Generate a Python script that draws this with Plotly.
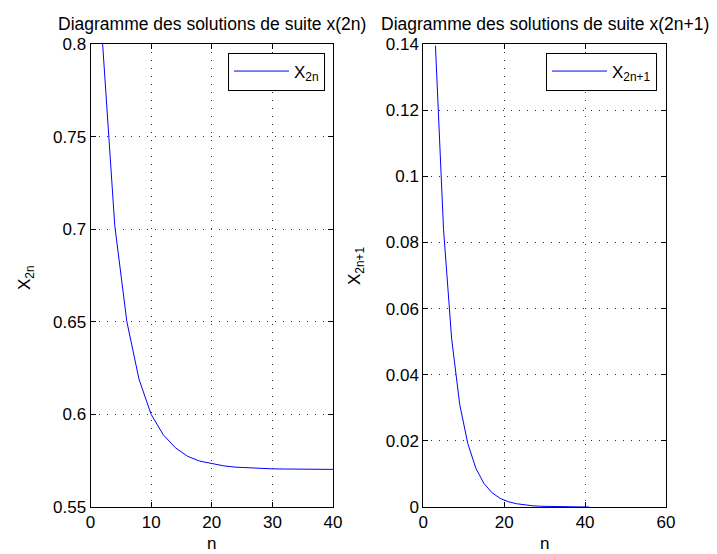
import plotly.graph_objects as go

# ---------------- data ----------------
n_even = [2, 4, 6, 8, 10, 12, 14, 16, 18, 20, 22, 24, 26, 28, 30, 32, 34, 36, 38, 40]
x_even = [0.800, 0.702, 0.650, 0.619, 0.600, 0.589, 0.582, 0.5774, 0.5748, 0.5733,
          0.5722, 0.5715, 0.5711, 0.5708, 0.5706, 0.5705, 0.5704, 0.5703, 0.5703, 0.5703]

n_odd = [3, 5, 7, 9, 11, 13, 15, 17, 19, 21, 23, 25, 27, 29, 31, 33, 35, 37, 39, 41]
x_odd = [0.1395, 0.084, 0.051, 0.031, 0.0192, 0.0117, 0.0071, 0.0043, 0.0026, 0.0016,
         0.0010, 0.0006, 0.00037, 0.00022, 0.00014, 0.00008, 0.00005, 0.00003, 0.00002, 0.00001]

left_xticks = [0, 10, 20, 30, 40]
left_yticks = [0.55, 0.6, 0.65, 0.7, 0.75, 0.8]
left_yticktext = ["0.55", "0.6", "0.65", "0.7", "0.75", "0.8"]
right_xticks = [0, 20, 40, 60]
right_yticks = [0, 0.02, 0.04, 0.06, 0.08, 0.1, 0.12, 0.14]
right_yticktext = ["0", "0.02", "0.04", "0.06", "0.08", "0.1", "0.12", "0.14"]

title_left = "Diagramme des solutions de suite x(2n)"
title_right = "Diagramme des solutions de suite x(2n+1)"

# ---------------- layout helpers ----------------
W, H = 717, 554
FONT = "Liberation Sans, Arial, sans-serif"
FS = 17
FT = 17.5


def px(x):
    return x / W


def py(y):
    return 1 - y / H


L1, R1 = 90.5, 333.0
L2, R2 = 423.3, 666.0
TOP, BOT = 44.0, 507.0

fig = go.Figure()
fig.add_trace(go.Scatter(x=n_even, y=x_even, mode="lines",
                         line=dict(color="#0000ff", width=1),
                         name="X<sub>2n</sub>", xaxis="x", yaxis="y", legend="legend"))
fig.add_trace(go.Scatter(x=n_odd, y=x_odd, mode="lines",
                         line=dict(color="#0000ff", width=1),
                         name="X<sub>2n+1</sub>", xaxis="x2", yaxis="y2", legend="legend2"))

common = dict(showline=True, linecolor="black", linewidth=1, mirror="ticks",
              ticks="inside", ticklen=5, tickcolor="black", tickwidth=1,
              showgrid=True, gridcolor="#333333", gridwidth=1, griddash="1px,7px",
              zeroline=False, automargin=False,
              tickfont=dict(family=FONT, size=FS, color="black"))

leg_common = dict(xanchor="right", yanchor="top", bordercolor="black", borderwidth=1,
                  bgcolor="white", itemwidth=55,
                  font=dict(family=FONT, size=FS, color="black"))

fig.update_layout(
    width=W, height=H, template="none",
    margin=dict(l=0, r=0, t=0, b=0),
    paper_bgcolor="white", plot_bgcolor="white",
    font=dict(family=FONT, size=FS, color="black"),
    xaxis=dict(domain=[px(L1), px(R1)], range=[0, 40], tickvals=left_xticks,
               anchor="y", **common),
    yaxis=dict(domain=[py(BOT), py(TOP)], range=[0.55, 0.8], tickvals=left_yticks,
               ticktext=left_yticktext, anchor="x", **common),
    xaxis2=dict(domain=[px(L2), px(R2)], range=[0, 60], tickvals=right_xticks,
                anchor="y2", **common),
    yaxis2=dict(domain=[py(BOT), py(TOP)], range=[0, 0.14], tickvals=right_yticks,
                ticktext=right_yticktext, anchor="x2", **common),
    legend=dict(x=px(325), y=py(52.5), **leg_common),
    legend2=dict(x=px(657), y=py(52.5), **leg_common),
    showlegend=True,
)

ann = []
ann.append(dict(text=title_left, x=px((L1 + R1) / 2), y=py(24), xref="paper", yref="paper",
                xanchor="center", yanchor="middle", showarrow=False,
                font=dict(family=FONT, size=FT, color="black")))
ann.append(dict(text=title_right, x=px((L2 + R2) / 2), y=py(24), xref="paper", yref="paper",
                xanchor="center", yanchor="middle", showarrow=False,
                font=dict(family=FONT, size=FT, color="black")))
ann.append(dict(text="n", x=px((L1 + R1) / 2), y=py(543), xref="paper", yref="paper",
                xanchor="center", yanchor="middle", showarrow=False,
                font=dict(family=FONT, size=FS, color="black")))
ann.append(dict(text="n", x=px((L2 + R2) / 2), y=py(543), xref="paper", yref="paper",
                xanchor="center", yanchor="middle", showarrow=False,
                font=dict(family=FONT, size=FS, color="black")))
ann.append(dict(text="X<sub>2n</sub>", x=px(26), y=py(277), xref="paper", yref="paper",
                xanchor="center", yanchor="middle", showarrow=False, textangle=-90,
                font=dict(family=FONT, size=FS, color="black")))
ann.append(dict(text="X<sub>2n+1</sub>", x=px(356), y=py(266), xref="paper", yref="paper",
                xanchor="center", yanchor="middle", showarrow=False, textangle=-90,
                font=dict(family=FONT, size=FS, color="black")))
fig.update_layout(annotations=ann)

fig.write_html("out.html",
               config={"displayModeBar": False},
               post_script="document.body.style.margin='0px';document.body.style.padding='0px';")
